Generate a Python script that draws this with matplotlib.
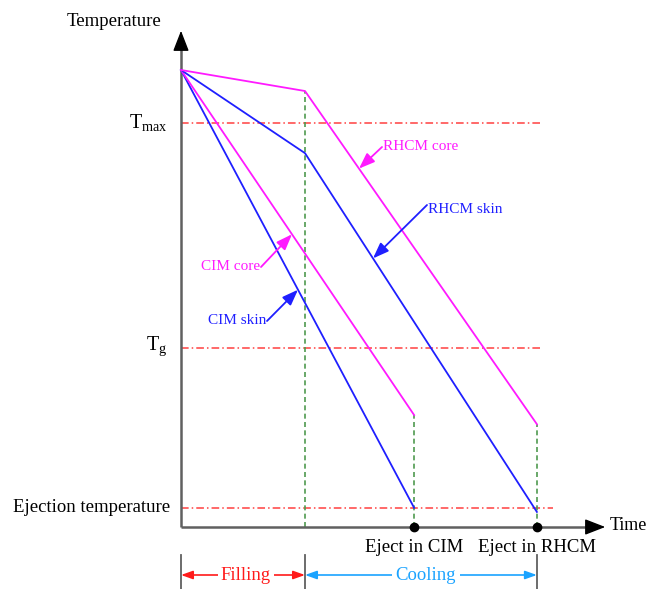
import numpy as np
import matplotlib
matplotlib.use("Agg")
import matplotlib.pyplot as plt

plt.rcParams['font.family'] = ['Liberation Serif', 'DejaVu Serif']
plt.rcParams['mathtext.fontset'] = 'custom'
plt.rcParams['mathtext.rm'] = 'Liberation Serif'

# --- schematic data (time: filling duration = 1, temperature: start = 100) ---
t_fill = 1.0
t_cim = 1.88
t_rhcm = 2.87

T_start = 100.0
T_max = 88.4
T_g = 39.2
T_eject = 4.2

cim_skin_t = [0.0, t_cim]
cim_skin_T = [T_start, T_eject]
cim_core_t = [0.0, t_cim]
cim_core_T = [T_start, 24.5]
rhcm_skin_t = [0.0, t_fill, t_rhcm]
rhcm_skin_T = [T_start, 81.8, 3.3]
rhcm_core_t = [0.0, t_fill, t_rhcm]
rhcm_core_T = [T_start, 95.4, 22.5]

# pixel -> data helper for layout items only
PX0, PY0, SX, SY = 181.0, 527.0, 124.0, 4.57


def px(x, y):
    return (x - PX0) / SX, (PY0 - y) / SY


W, H = 648, 589
fig = plt.figure(figsize=(W / 100, H / 100), dpi=100)
ax = fig.add_axes([0, 0, 1, 1])
ax.set_xlim(-PX0 / SX, (W - PX0) / SX)
ax.set_ylim(-(H - PY0) / SY, PY0 / SY)
ax.axis('off')

blue = '#1f1fff'
pink = '#ff1aff'
green = '#4f9a4f'
red = '#ff4040'
gray = '#606060'
fs = 13.5
fs_small = 11

# reference lines
x_end_ref = px(540, 0)[0]
x_end_ej = px(553, 0)[0]
for T, xe in [(T_max, x_end_ref), (T_g, x_end_ref), (T_eject, x_end_ej)]:
    ax.plot([0, xe], [T, T], color=red, lw=1.1, ls=(0, (5, 2, 1, 2)), zorder=1)

# vertical dashed lines
ax.plot([t_fill, t_fill], [0, rhcm_core_T[1]], color=green, lw=1.2, ls=(0, (3, 2)), zorder=1)
ax.plot([t_cim, t_cim], [0, cim_core_T[-1]], color=green, lw=1.2, ls=(0, (3, 2)), zorder=1)
ax.plot([t_rhcm, t_rhcm], [0, rhcm_core_T[-1]], color=green, lw=1.2, ls=(0, (3, 2)), zorder=1)

# curves
ax.plot(cim_skin_t, cim_skin_T, color=blue, lw=1.3, zorder=3)
ax.plot(cim_core_t, cim_core_T, color=pink, lw=1.3, zorder=3)
ax.plot(rhcm_skin_t, rhcm_skin_T, color=blue, lw=1.3, zorder=3)
ax.plot(rhcm_core_t, rhcm_core_T, color=pink, lw=1.3, zorder=3)

# axes with arrows
x_tip = px(608, 0)[0]
y_tip = px(0, 28)[1]
ax.plot([0, x_tip - 0.08], [0, 0], color=gray, lw=1.8, zorder=2, solid_capstyle='butt')
ax.plot([0, 0], [0, y_tip - 2.5], color=gray, lw=1.8, zorder=2, solid_capstyle='butt')
ax.annotate('', xy=(x_tip, 0), xytext=(x_tip - 0.12, 0),
            arrowprops=dict(arrowstyle='-|>,head_length=0.9,head_width=0.35', color='black', lw=1, mutation_scale=14))
ax.annotate('', xy=(0, y_tip), xytext=(0, y_tip - 3),
            arrowprops=dict(arrowstyle='-|>,head_length=0.9,head_width=0.35', color='black', lw=1, mutation_scale=14))

# eject points
ax.plot([t_cim, t_rhcm], [0, 0], 'o', color='black', ms=6, zorder=5)

# axis texts
ax.text(*px(114, 22), 'Temperature', fontsize=fs, ha='center', va='center')
ax.text(*px(647, 525), 'Time', fontsize=13, ha='right', va='center')
ax.text(*px(168, 123), r'$\mathrm{T_{max}}$', fontsize=fs + 1, ha='right', va='center')
ax.text(*px(167, 346), r'$\mathrm{T_{g}}$', fontsize=fs + 1, ha='right', va='center')
ax.text(*px(170, 507), 'Ejection temperature', fontsize=fs, ha='right', va='center')
ax.text(t_cim, px(0, 547)[1], 'Eject in CIM', fontsize=fs, ha='center', va='center')
ax.text(t_rhcm, px(0, 547)[1], 'Eject in RHCM', fontsize=fs, ha='center', va='center')

# curve labels with arrows
labels = [
    ('RHCM core', pink, rhcm_core_t, rhcm_core_T, px(359, 0)[0], px(382, 147), 'left'),
    ('RHCM skin', blue, rhcm_skin_t, rhcm_skin_T, px(373, 0)[0], px(427, 205), 'left'),
    ('CIM core', pink, cim_core_t, cim_core_T, px(292, 0)[0], px(261, 267), 'right'),
    ('CIM skin', blue, cim_skin_t, cim_skin_T, px(298, 0)[0], px(267, 321), 'right'),
]
for name, c, tt, TT, tx, (lx, ly), ha in labels:
    ty = np.interp(tx, tt, TT)
    ax.annotate('', xy=(tx, ty), xytext=(lx, ly),
                arrowprops=dict(arrowstyle='-|>,head_length=0.8,head_width=0.3', color=c, lw=1.3,
                                mutation_scale=12, shrinkA=0, shrinkB=0))
    ty_text = ly - 1.0 if name == 'RHCM skin' else ly
    ax.text(lx + (0.005 if ha == 'left' else -0.005), ty_text, name, color=c, fontsize=fs_small,
            ha=ha, va='center')

# filling / cooling brackets
yb0, yb1 = px(0, 555)[1], px(0, 589)[1]
for xv in [0, t_fill, t_rhcm]:
    ax.plot([xv, xv], [yb0, yb1], color=gray, lw=1.3, zorder=2)
yb = px(0, 575)[1]
ax.annotate('', xy=(0, yb), xytext=(t_fill, yb),
            arrowprops=dict(arrowstyle='<|-|>,head_length=0.7,head_width=0.25', color='#ff1a1a', lw=1.2,
                            mutation_scale=10, shrinkA=0, shrinkB=0))
ax.annotate('', xy=(t_fill, yb), xytext=(t_rhcm, yb),
            arrowprops=dict(arrowstyle='<|-|>,head_length=0.7,head_width=0.25', color='#1aa3ff', lw=1.2,
                            mutation_scale=10, shrinkA=0, shrinkB=0))
ax.text(px(246, 0)[0], yb, 'Filling', color='#ff1a1a', fontsize=fs, ha='center', va='center',
        bbox=dict(facecolor='white', edgecolor='none', pad=2))
ax.text(px(426, 0)[0], yb, 'Cooling', color='#1aa3ff', fontsize=fs, ha='center', va='center',
        bbox=dict(facecolor='white', edgecolor='none', pad=3))

fig.savefig('out.png', dpi=100, facecolor='white')
